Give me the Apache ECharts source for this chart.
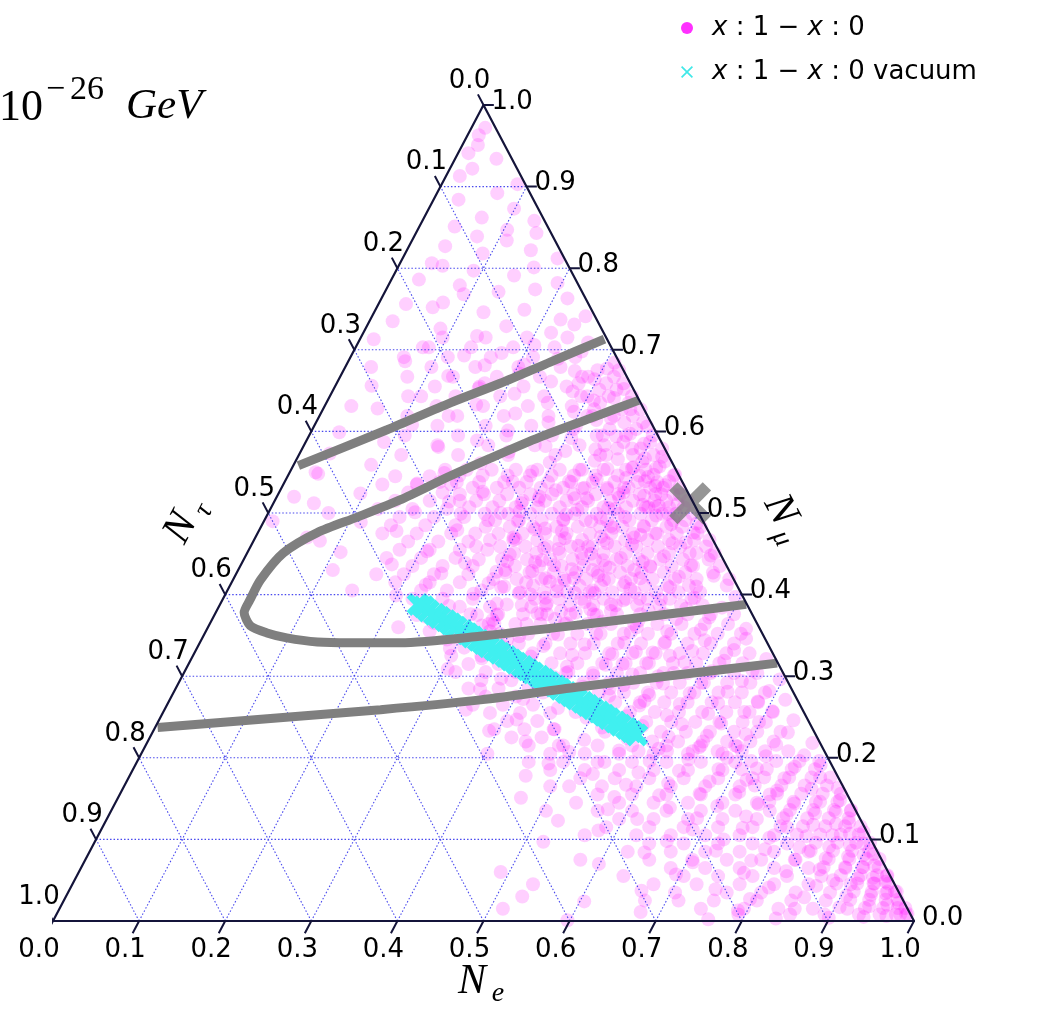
<!DOCTYPE html>
<html><head><meta charset="utf-8">
<script src="https://cdn.jsdelivr.net/npm/echarts/dist/echarts.min.js"></script>
<style>html,body{margin:0;padding:0;background:#fff}#c{width:1047px;height:1010px}</style>
</head><body><div id="c"></div><script>
// ---- data (ternary fractions) ----
const TICKS = [0, 0.1, 0.2, 0.3, 0.4, 0.5, 0.6, 0.7, 0.8, 0.9, 1.0];
const TICK_LABELS = ['0.0','0.1','0.2','0.3','0.4','0.5','0.6','0.7','0.8','0.9','1.0'];
const SERIES_NAMES = ['x : 1 − x : 0', 'x : 1 − x : 0 vacuum'];

// scatter cloud: [N_mu, N_tau]  (N_e = 1 - N_mu - N_tau)
const CLOUD_MU_TAU = [
[.972,.012],[.951,.031],[.934,.018],[.922,.052],[.903,.009],[.913,.071],[.892,.038],[.941,.047],[.884,.087],[.963,.024],
[.873,.028],[.862,.071],[.851,.108],[.843,.017],[.834,.056],[.827,.131],[.818,.092],[.812,.008],[.806,.157],[.801,.041],[.797,.113],[.791,.069],[.786,.182],[.782,.023],[.779,.138],[.858,.012],[.839,.088],[.822,.034],[.803,.146],[.847,.049],
[.774,.053],[.771,.097],[.763,.021],[.758,.168],[.756,.212],[.749,.078],[.746,.127],[.741,.011],[.737,.042],[.735,.238],[.729,.109],[.726,.187],[.721,.061],[.717,.149],[.713,.271],[.709,.024],[.706,.088],[.703,.219],[.698,.037],[.696,.131],[.693,.176],[.689,.069],[.686,.248],[.684,.006],[.682,.112],[.681,.158],[.679,.291],[.731,.029],[.752,.183],[.768,.139],
[.677,.018],[.674,.057],[.671,.123],[.668,.207],[.664,.039],[.661,.091],[.659,.169],[.656,.302],[.652,.011],[.649,.072],[.646,.141],[.643,.251],[.641,.028],[.638,.053],[.635,.108],[.633,.192],[.631,.338],[.627,.016],[.624,.083],[.622,.152],[.619,.231],[.616,.044],[.614,.062],[.611,.119],[.608,.279],[.606,.007],[.603,.094],[.601,.171],[.599,.368],[.597,.031],[.594,.049],[.592,.102],[.589,.213],[.587,.322],[.585,.021],[.583,.068],[.582,.137],[.581,.262],[.579,.038],[.578,.081],[.576,.117],[.575,.183],[.573,.392],[.628,.309],[.653,.179],
[.569,.008],[.567,.029],[.566,.061],[.564,.089],[.562,.142],[.561,.223],[.559,.351],
[.557,.017],[.556,.048],[.554,.079],[.553,.112],[.551,.168],[.549,.271],[.548,.418],
[.546,.006],[.544,.037],[.543,.063],[.541,.098],[.539,.131],[.538,.197],[.536,.309],
[.534,.022],[.533,.034],[.531,.071],[.529,.092],[.528,.152],[.526,.238],[.524,.381],
[.522,.011],[.521,.053],[.519,.083],[.518,.121],[.516,.178],[.514,.283],[.512,.441],
[.511,.019],[.509,.042],[.507,.058],[.506,.102],[.504,.139],[.502,.207],[.501,.329],
[.499,.027],[.497,.051],[.495,.088],[.494,.117],[.492,.161],[.491,.249],[.489,.398],
[.487,.009],[.486,.039],[.484,.072],[.482,.108],[.481,.188],[.479,.291],[.478,.362],
[.476,.018],[.475,.061],[.473,.081],[.471,.128],[.469,.171],[.468,.229],[.466,.457],
[.464,.033],[.463,.049],[.461,.097],[.459,.149],[.457,.201],[.455,.268],[.453,.339],
[.47,.47],[.452,.44],[.43,.46],[.405,.45],[.49,.50],[.52,.46],[.55,.42],[.5,.43],
[.448,.012],[.447,.067],[.445,.118],[.444,.163],[.442,.211],[.441,.252],[.439,.302],[.437,.388],
[.436,.041],[.434,.089],[.433,.137],[.431,.182],[.429,.229],[.428,.271],[.426,.336],[.425,.412],
[.423,.021],[.422,.062],[.42,.108],[.418,.151],[.417,.197],[.415,.243],[.414,.287],[.412,.361],
[.41,.048],[.409,.079],[.407,.126],[.405,.171],[.404,.213],[.402,.258],[.401,.311],[.399,.402],
[.397,.009],[.396,.057],[.394,.097],[.393,.141],[.391,.187],[.389,.232],[.388,.279],[.386,.347],
[.384,.031],[.383,.073],[.381,.118],[.38,.162],[.378,.204],[.377,.249],[.375,.297],[.373,.381],
[.372,.052],[.37,.091],[.368,.136],[.367,.178],[.365,.221],[.364,.268],[.362,.321],[.36,.419],
[.358,.016],[.357,.069],[.355,.109],[.354,.152],[.352,.193],[.351,.238],[.349,.284],[.347,.356],
[.43,.158],[.415,.128],[.402,.193],[.388,.158],[.375,.181],[.42,.218],[.395,.121],[.36,.142],[.44,.095],[.385,.252],[.41,.271],[.37,.232],
[.346,.022],[.344,.071],[.342,.118],[.341,.166],[.339,.213],[.337,.262],[.336,.309],[.334,.372],
[.332,.043],[.331,.092],[.329,.139],[.327,.187],[.326,.234],[.324,.283],[.322,.341],
[.321,.011],[.319,.061],[.317,.108],[.316,.153],[.314,.201],[.312,.247],[.311,.298],[.309,.387],
[.307,.034],[.306,.082],[.304,.127],[.302,.176],[.301,.222],[.299,.269],[.297,.331],
[.296,.008],[.294,.053],[.292,.101],[.291,.146],[.289,.193],[.287,.241],[.286,.292],[.284,.362],
[.282,.027],[.281,.076],[.279,.121],[.277,.169],[.276,.216],[.274,.262],[.272,.318],
[.271,.014],[.269,.047],[.267,.094],[.266,.139],[.264,.187],[.262,.234],[.261,.283],[.259,.391],
[.257,.036],[.256,.069],[.254,.112],[.252,.161],[.251,.208],[.249,.256],[.247,.338],
[.33,.158],[.315,.181],[.3,.147],[.285,.211],[.27,.178],[.325,.121],[.305,.249],
[.246,.017],[.244,.058],[.242,.103],[.241,.149],[.239,.196],[.237,.244],[.235,.301],[.233,.377],
[.231,.031],[.229,.081],[.227,.127],[.226,.172],[.224,.221],[.222,.272],[.22,.341],
[.218,.009],[.216,.052],[.214,.098],[.213,.143],[.211,.191],[.209,.238],[.207,.297],[.205,.393],
[.203,.026],[.202,.071],[.2,.117],[.198,.163],[.196,.209],[.195,.262],[.193,.328],
[.191,.013],[.189,.044],[.187,.089],[.186,.134],[.184,.181],[.182,.229],[.18,.283],[.178,.362],
[.176,.021],[.175,.063],[.173,.108],[.171,.152],[.169,.201],[.167,.251],[.165,.318],
[.163,.007],[.162,.038],[.16,.079],[.158,.124],[.156,.171],[.154,.219],[.152,.272],[.151,.381],
[.148,.012],[.146,.036],[.144,.067],[.143,.109],[.141,.158],[.139,.214],[.137,.287],
[.135,.006],[.134,.024],[.132,.049],[.13,.083],[.128,.131],[.126,.189],[.125,.259],[.123,.352],
[.121,.015],[.119,.031],[.118,.058],[.116,.097],[.114,.142],[.112,.201],[.111,.311],
[.109,.004],[.107,.021],[.105,.042],[.104,.073],[.102,.117],[.1,.171],[.098,.238],[.097,.382],
[.095,.011],[.093,.028],[.091,.053],[.09,.088],[.088,.129],[.086,.187],[.084,.271],
[.082,.006],[.081,.018],[.079,.037],[.077,.064],[.075,.101],[.074,.152],[.072,.221],[.07,.331],
[.068,.012],[.066,.027],[.065,.047],[.063,.078],[.061,.118],[.059,.168],[.057,.248],
[.055,.004],[.053,.021],[.052,.039],[.05,.069],
[.048,.009],[.046,.024],[.045,.051],[.043,.092],[.041,.148],[.039,.211],[.037,.298],
[.036,.004],[.034,.016],[.032,.034],[.031,.063],[.029,.113],[.027,.177],[.025,.261],[.024,.371],
[.022,.007],[.02,.021],[.018,.043],[.017,.078],[.015,.131],[.013,.198],[.011,.312],
[.009,.003],[.008,.012],[.006,.029],[.005,.056],[.004,.097],[.003,.159],[.002,.238],[.001,.402],
[.03,.44],[.015,.47],[.045,.42],[.06,.45],
// dense core
[.553,.035],[.553,.058],[.553,.084],[.553,.109],[.553,.135],[.553,.161],[.553,.186],[.553,.214],[.553,.243],[.553,.268],
[.546,.046],[.546,.071],[.546,.097],[.546,.122],[.546,.148],[.546,.173],[.546,.199],[.546,.228],[.546,.255],
[.538,.029],[.538,.052],[.538,.079],[.538,.104],[.538,.129],[.538,.156],[.538,.181],[.538,.207],[.538,.236],[.538,.262],[.538,.282],
[.531,.041],[.531,.066],[.531,.091],[.531,.117],[.531,.142],[.531,.168],[.531,.193],[.531,.219],[.531,.247],
[.523,.032],[.523,.057],[.523,.082],[.523,.108],[.523,.134],[.523,.159],[.523,.184],[.523,.211],[.523,.238],[.523,.266],
[.515,.044],[.515,.069],[.515,.095],[.515,.121],[.515,.146],[.515,.171],[.515,.197],[.515,.224],[.515,.251],
[.507,.031],[.507,.055],[.507,.081],[.507,.107],[.507,.132],[.507,.158],[.507,.183],[.507,.209],[.507,.236],[.507,.263],
[.499,.043],[.499,.068],[.499,.094],[.499,.119],[.499,.145],[.499,.171],[.499,.196],[.499,.222],[.499,.249],[.499,.277],
[.491,.034],[.491,.059],[.491,.085],[.491,.111],[.491,.136],[.491,.162],[.491,.187],[.491,.213],[.491,.241],
[.483,.046],[.483,.072],[.483,.097],[.483,.123],[.483,.149],[.483,.174],[.483,.201],[.483,.228],[.483,.256],
[.475,.038],[.475,.063],[.475,.089],[.475,.114],[.475,.139],[.475,.166],[.475,.191],[.475,.217],[.475,.245],[.475,.272],
[.467,.051],[.467,.076],[.467,.102],[.467,.127],[.467,.152],[.467,.178],[.467,.204],[.467,.232],[.467,.259],
[.459,.042],[.459,.068],[.459,.093],[.459,.118],[.459,.144],[.459,.169],[.459,.196],[.459,.222],[.459,.251],[.459,.279],
[.451,.035],[.451,.059],[.451,.084],[.451,.109],[.451,.135],[.451,.161],[.451,.186],[.451,.213],[.451,.239],
[.443,.047],[.443,.073],[.443,.098],[.443,.124],[.443,.149],[.443,.175],[.443,.201],[.443,.228],[.443,.257],[.443,.284],
[.435,.039],[.435,.064],[.435,.089],[.435,.115],[.435,.141],[.435,.166],[.435,.192],[.435,.218],[.435,.246],
[.427,.052],[.427,.077],[.427,.103],[.427,.128],[.427,.154],[.427,.179],[.427,.205],[.427,.233],[.427,.261],
[.419,.043],[.419,.068],[.419,.094],[.419,.119],[.419,.145],[.419,.171],[.419,.197],[.419,.223],[.419,.252],[.419,.279],
[.411,.056],[.411,.081],[.411,.107],[.411,.132],[.411,.158],[.411,.183],[.411,.209],[.411,.237],
[.403,.047],[.403,.072],[.403,.098],[.403,.123],[.403,.149],[.403,.175],[.403,.201],[.403,.228],[.403,.256],
[.395,.061],[.395,.086],[.395,.112],[.395,.137],[.395,.163],[.395,.189],[.395,.215],[.395,.243],
[.387,.052],[.387,.077],[.387,.102],[.387,.128],[.387,.153],[.387,.179],[.387,.206],[.387,.234],[.387,.262],
// left flank of the core
[.545,.29],[.545,.33],[.535,.27],[.535,.31],[.535,.35],[.525,.285],[.525,.325],[.515,.27],[.515,.305],[.515,.345],
[.505,.29],[.505,.33],[.505,.37],[.495,.275],[.495,.31],[.495,.35],[.485,.29],[.485,.325],[.485,.365],[.475,.3],[.475,.34],[.475,.38],
[.465,.285],[.465,.32],[.465,.355],[.455,.3],[.455,.335],[.455,.37],[.445,.31],[.445,.35],[.445,.39],[.435,.295],[.435,.33],[.435,.365],
[.425,.305],[.425,.345],[.425,.38],[.415,.32],[.415,.355],[.415,.395],[.405,.3],[.405,.34],[.405,.37],[.395,.315],[.395,.35],[.395,.385],
[.385,.3],[.385,.335],[.385,.37],[.375,.32],[.375,.355],[.375,.39],[.365,.305],[.365,.345],[.365,.375],[.355,.315],[.355,.35],[.355,.385],
[.345,.3],[.345,.335],[.345,.37],[.335,.32],[.335,.355],[.325,.305],[.325,.34],[.325,.375],[.315,.325],[.315,.36],[.305,.31],[.305,.345],[.305,.38],
[.295,.32],[.295,.355],[.285,.305],[.285,.34],[.285,.375],[.275,.325],[.275,.36],[.265,.31],[.265,.345],[.265,.38],[.255,.295],[.255,.33],[.255,.365],
[.245,.315],[.245,.35],[.235,.3],[.235,.335],[.235,.37],[.225,.32],[.225,.355],[.215,.305],[.215,.34],
// right-edge strip
[.675,.005],[.675,.03],[.667,.015],[.667,.045],[.659,.008],[.659,.028],[.659,.06],[.651,.02],[.651,.04],[.643,.006],[.643,.033],[.643,.065],
[.635,.014],[.635,.047],[.627,.004],[.627,.026],[.627,.058],[.619,.017],[.619,.039],[.619,.07],[.611,.009],[.611,.031],[.603,.021],[.603,.052],
[.595,.006],[.595,.037],[.595,.064],[.587,.013],[.587,.044],[.579,.003],[.579,.028],[.579,.055],[.571,.017],[.571,.041],[.571,.072],[.563,.008],[.563,.034],
[.555,.022],[.555,.05],[.547,.004],[.547,.029],[.539,.015],[.539,.043],[.531,.007],[.531,.026],[.523,.018],[.523,.039],[.515,.005],[.515,.03],
[.507,.014],[.507,.047],[.499,.008],[.499,.036],[.491,.02],[.483,.006],[.483,.028],[.475,.014],[.467,.004],[.467,.022],[.459,.012],[.451,.006],[.451,.027],
[.443,.017],[.435,.008],[.427,.02],[.419,.005],[.411,.012],
// extra core density
[.525,.075],[.518,.135],[.512,.2],[.505,.095],[.498,.155],[.49,.215],[.484,.11],[.478,.17],[.47,.23],[.463,.125],[.456,.185],[.449,.245],
[.442,.14],[.436,.2],[.43,.26],[.423,.155],[.416,.215],[.409,.275],[.402,.17],[.396,.23],[.389,.29],[.382,.185],[.376,.245],[.369,.305],
[.52,.175],[.5,.23],[.48,.2],[.46,.16],[.44,.22],[.42,.185],[.4,.245],[.38,.22],[.53,.12],[.51,.06],[.49,.13],[.47,.09],[.45,.15],[.43,.11],
// mid band
[.376,.021],[.376,.048],[.376,.075],[.376,.102],[.376,.13],[.376,.157],[.376,.184],[.376,.211],[.376,.238],[.376,.266],[.376,.295],[.376,.327],
[.364,.034],[.364,.061],[.364,.088],[.364,.116],[.364,.143],[.364,.17],[.364,.197],[.364,.224],[.364,.252],[.364,.281],[.364,.312],
[.352,.025],[.352,.052],[.352,.079],[.352,.106],[.352,.133],[.352,.161],[.352,.188],[.352,.215],[.352,.243],[.352,.272],[.352,.305],
[.34,.039],[.34,.066],[.34,.093],[.34,.12],[.34,.147],[.34,.174],[.34,.202],[.34,.229],[.34,.258],[.34,.289],
[.328,.027],[.328,.054],[.328,.081],[.328,.108],[.328,.136],[.328,.163],[.328,.19],[.328,.218],[.328,.247],[.328,.279],[.328,.318],
[.316,.041],[.316,.068],[.316,.095],[.316,.122],[.316,.15],[.316,.177],[.316,.204],[.316,.233],[.316,.263],[.316,.297],
[.304,.03],[.304,.057],[.304,.084],[.304,.111],[.304,.139],[.304,.166],[.304,.193],[.304,.221],[.304,.252],[.304,.284],
[.292,.044],[.292,.071],[.292,.098],[.292,.126],[.292,.153],[.292,.18],[.292,.208],[.292,.238],[.292,.27],
[.28,.033],[.28,.06],[.28,.087],[.28,.115],[.28,.142],[.28,.169],[.28,.197],[.28,.226],[.28,.258],[.28,.291],
[.268,.047],[.268,.074],[.268,.101],[.268,.129],[.268,.156],[.268,.184],[.268,.213],[.268,.244],
[.256,.036],[.256,.063],[.256,.09],[.256,.118],[.256,.145],[.256,.173],[.256,.202],[.256,.232],[.256,.265],
[.244,.05],[.244,.077],[.244,.104],[.244,.132],[.244,.16],[.244,.189],[.244,.219],
[.232,.039],[.232,.066],[.232,.093],[.232,.121],[.232,.149],[.232,.178],[.232,.209],[.232,.243],
[.22,.053],[.22,.08],[.22,.107],[.22,.135],[.22,.164],[.22,.194],
[.208,.042],[.208,.069],[.208,.096],[.208,.124],[.208,.153],[.208,.183],[.208,.216],
// lower middle
[.215,.1],[.215,.14],[.215,.18],[.215,.22],[.215,.26],[.215,.3],[.205,.12],[.205,.16],[.205,.2],[.205,.24],[.205,.28],[.205,.32],
[.195,.11],[.195,.15],[.195,.19],[.195,.23],[.195,.27],[.195,.31],[.195,.35],[.185,.13],[.185,.17],[.185,.21],[.185,.25],[.185,.29],[.185,.33],
[.175,.1],[.175,.14],[.175,.18],[.175,.22],[.175,.26],[.175,.3],[.165,.12],[.165,.16],[.165,.2],[.165,.24],[.165,.28],[.165,.34],
[.155,.09],[.155,.13],[.155,.17],[.155,.21],[.155,.25],[.155,.29],[.145,.11],[.145,.15],[.145,.19],[.145,.23],[.145,.27],[.145,.32],
[.135,.1],[.135,.14],[.135,.18],[.135,.22],[.135,.26],[.135,.3],[.135,.36],[.125,.12],[.125,.16],[.125,.2],[.125,.24],[.125,.28],
[.115,.09],[.115,.13],[.115,.17],[.115,.21],[.115,.25],[.115,.3],[.105,.11],[.105,.15],[.105,.19],[.105,.23],[.105,.27],[.105,.33],
[.095,.1],[.095,.14],[.095,.18],[.095,.22],[.095,.26],[.085,.08],[.085,.12],[.085,.16],[.085,.2],[.085,.24],[.085,.29],
[.075,.1],[.075,.14],[.075,.18],[.075,.22],[.075,.27],[.075,.35],[.065,.09],[.065,.13],[.065,.17],[.065,.21],[.065,.25],
[.055,.08],[.055,.12],[.055,.16],[.055,.2],[.055,.24],[.055,.31],[.045,.1],[.045,.14],[.045,.18],[.045,.23],[.045,.28],
[.035,.08],[.035,.12],[.035,.16],[.035,.2],[.035,.26],[.025,.09],[.025,.13],[.025,.17],[.025,.22],[.025,.3],
[.015,.07],[.015,.11],[.015,.15],[.015,.19],[.015,.24],[.008,.06],[.008,.1],[.008,.14],[.008,.2],
// lower right edge
[.196,.012],[.196,.035],[.196,.062],[.196,.091],[.186,.022],[.186,.049],[.186,.078],[.186,.107],[.176,.009],[.176,.031],[.176,.057],[.176,.086],
[.166,.018],[.166,.044],[.166,.071],[.166,.102],[.156,.007],[.156,.028],[.156,.053],[.156,.081],[.146,.016],[.146,.041],[.146,.067],[.146,.095],
[.136,.005],[.136,.025],[.136,.049],[.136,.076],[.126,.013],[.126,.036],[.126,.061],[.126,.089],[.116,.004],[.116,.022],[.116,.045],[.116,.071],
[.106,.011],[.106,.032],[.106,.056],[.106,.083],[.096,.003],[.096,.019],[.096,.041],[.096,.066],[.086,.009],[.086,.029],[.086,.051],[.086,.077],
[.076,.002],[.076,.017],[.076,.037],[.076,.061],[.066,.008],[.066,.026],[.066,.047],[.066,.072],[.056,.003],[.056,.015],[.056,.034],[.056,.057],
[.046,.007],[.046,.023],[.046,.043],[.046,.067],[.036,.002],[.036,.013],[.036,.031],[.036,.052],[.026,.006],[.026,.02],[.026,.039],[.026,.061],
[.016,.002],[.016,.011],[.016,.028],[.016,.049],[.008,.005],[.008,.017],[.008,.036],
// upper middle
[.715,.045],[.715,.092],[.715,.14],[.715,.19],[.703,.066],[.703,.114],[.703,.163],[.703,.212],[.691,.048],[.691,.097],[.691,.146],[.691,.196],[.691,.247],
[.679,.071],[.679,.12],[.679,.17],[.679,.221],[.667,.052],[.667,.101],[.667,.151],[.667,.202],[.667,.255],[.655,.076],[.655,.126],[.655,.177],[.655,.229],
[.643,.058],[.643,.108],[.643,.159],[.643,.211],[.643,.266],[.631,.082],[.631,.133],[.631,.185],[.631,.239],[.619,.064],[.619,.115],[.619,.167],[.619,.221],[.619,.279],
[.607,.089],[.607,.141],[.607,.194],[.607,.25],[.595,.071],[.595,.123],[.595,.176],[.595,.232],[.595,.294],[.583,.097],[.583,.149],[.583,.203],[.583,.262],
[.571,.079],[.571,.131],[.571,.186],[.571,.244],[.571,.31]
];

// vacuum points: [N_e, N_mu]
const VACUUM_NE_MU = [
[.230,.388],[.238,.385],[.246,.380],[.255,.376],[.263,.372],[.272,.368],[.280,.364],[.288,.360],[.297,.356],[.305,.352],
[.313,.348],[.322,.344],[.330,.340],[.338,.336],[.347,.332],[.355,.328],[.364,.324],[.372,.320],[.380,.316],[.389,.312],
[.397,.308],[.405,.304],[.414,.300],[.422,.296],[.430,.292],[.439,.288],[.447,.284],[.456,.280],[.464,.276],[.472,.272],
[.481,.268],[.489,.264],[.497,.260],[.506,.256],[.514,.252],[.522,.248],[.531,.244],[.539,.240],[.548,.236],[.556,.232],[.564,.228]
];

// grey contours: [N_e, N_mu]
const CONTOUR_1 = [[.006,.558],[.087,.602],[.144,.635],[.190,.659],[.235,.685],[.284,.713]];
const CONTOUR_2 = [[.361,.638],[.316,.616],[.269,.593],[.224,.567],[.188,.545],[.145,.516],[.106,.495],[.069,.476],[.042,.451],[.032,.418],[.032,.393],[.033,.378],[.048,.362],[.072,.353],[.098,.347],[.136,.342],[.175,.341],[.233,.341],[.321,.349],[.431,.363],[.540,.378],[.611,.388]];
const CONTOUR_3 = [[.003,.237],[.139,.249],[.251,.259],[.361,.271],[.469,.287],[.578,.302],[.683,.316]];

// grey marker: [N_e, N_mu]
const MARKER_NE_MU = [.484, .512];

// ---- helpers ----
function tern(ne, mu) { return [ne + mu / 2, mu]; }
const GAP = [null, null];

const gridData = [];
TICKS.slice(1, -1).forEach(k => {
  gridData.push(tern(0, k), tern(1 - k, k), GAP);
  gridData.push(tern(k, 0), tern(k, 1 - k), GAP);
  gridData.push(tern(1 - k, 0), tern(0, 1 - k), GAP);
});
const tickData = [];
TICKS.forEach(k => {
  tickData.push(tern(k, 0), tern(k, -0.015), GAP);
  tickData.push(tern(1 - k, k), tern(1 - k + 0.012, k), GAP);
  tickData.push(tern(0, 1 - k), tern(-0.013, 1 - k + 0.013), GAP);
});
const edgeData = [tern(0, 0), tern(1, 0), tern(0, 1), tern(0, 0)];

const labelStyle = { show: true, position: 'inside', fontFamily: 'DejaVu Sans', fontSize: 26, color: '#000', textBorderWidth: 0, opacity: 1, align: 'center', verticalAlign: 'middle' };
const bottomLabels = TICKS.map((k, i) => ({ value: tern(k, 0), name: TICK_LABELS[i] }));
const leftLabels = TICKS.map((k, i) => ({ value: tern(0, 1 - k), name: TICK_LABELS[i] }));
const rightLabels = TICKS.map((k, i) => ({ value: tern(1 - k, k), name: TICK_LABELS[i] }));

const XTHICK = 'path://M0,2L2,0L5,3L8,0L10,2L7,5L10,8L8,10L5,7L2,10L0,8L3,5Z';
const XTHIN = 'path://M1,0L5,4L9,0L10,1L6,5L10,9L9,10L5,6L1,10L0,9L4,5L0,1Z';

function labelSeries(data, extra) {
  return Object.assign({
    type: 'scatter', data, symbolSize: 1, silent: true, z: 10,
    itemStyle: { color: 'rgba(255,255,255,0)' },
    label: Object.assign({}, labelStyle, { formatter: '{b}' })
  }, extra);
}
function contourSeries(data) {
  return { type: 'line', data: data.map(p => tern(p[0], p[1])), showSymbol: false, symbol: 'none', smooth: 0.25, z: 6, silent: true, clip: false,
    lineStyle: { color: '#7f7f7f', width: 9 } };
}

const chart = echarts.init(document.getElementById('c'), null, { renderer: 'canvas' });
const txt = (x, y, text, font) => ({ type: 'text', x, y, style: { text, font, fill: '#000', textAlign: 'left', textVerticalAlign: 'middle', align: 'left', verticalAlign: 'middle' } });
const deg = Math.PI / 180;
const titleGroup = (x, y, rot, main, sub) => ({
  type: 'group', x, y, rotation: rot,
  children: [
    { type: 'text', x: 0, y: 0, style: { text: main, font: 'italic 42px "Liberation Serif"', fill: '#000', textAlign: 'center', textVerticalAlign: 'middle', align: 'center', verticalAlign: 'middle' } },
    { type: 'text', x: 26, y: 12, style: { text: sub, font: 'italic 28px "Liberation Serif"', fill: '#000', textAlign: 'center', textVerticalAlign: 'middle', align: 'center', verticalAlign: 'middle' } }
  ]
});

chart.setOption({
  animation: false,
  backgroundColor: '#fff',
  grid: { left: 53, right: 133, top: 105, bottom: 89 },
  xAxis: { type: 'value', min: 0, max: 1, show: false },
  yAxis: { type: 'value', min: 0, max: 1, show: false },
  legend: {
    left: 676, top: 10, orient: 'vertical', itemWidth: 12, itemHeight: 12, itemGap: 18, selectedMode: false,
    data: [
      { name: SERIES_NAMES[0], icon: 'circle', itemStyle: { color: '#ff30ff', opacity: 1 } },
      { name: SERIES_NAMES[1], icon: XTHIN, itemStyle: { color: '#40e8e8', opacity: 1 } }
    ],
    formatter: n => n.replace(/x/g, '{i|x}'),
    textStyle: { fontFamily: 'DejaVu Sans', fontSize: 26, color: '#000', padding: [0, 0, 0, 14],
      rich: { i: { fontFamily: 'DejaVu Sans', fontSize: 26, fontStyle: 'italic', color: '#000' } } }
  },
  graphic: [
    txt(-1, 108, '10', '44px "Liberation Serif"'),
    txt(46, 90, '−', '34px "Liberation Serif"'),
    txt(70, 90, '26', '34px "Liberation Serif"'),
    txt(126, 107, 'GeV', 'italic 43px "Liberation Serif"'),
    titleGroup(472, 982, 0, 'N', 'e'),
    titleGroup(181, 528, 62 * deg, 'N', 'τ'),
    titleGroup(780, 510, -62 * deg, 'N', 'μ')
  ],
  series: [
    { name: SERIES_NAMES[0], type: 'scatter', z: 1, silent: true, large: false,
      data: CLOUD_MU_TAU.map(p => tern(1 - p[0] - p[1], p[0])),
      symbol: 'circle', symbolSize: 14, itemStyle: { color: '#ff00ff', opacity: 0.19 } },
    { name: SERIES_NAMES[1], type: 'scatter', z: 2, silent: true,
      data: VACUUM_NE_MU.map(p => tern(p[0], p[1])),
      symbol: XTHICK, symbolSize: 23, itemStyle: { color: '#40f0f0', opacity: 1 } },
    { type: 'line', data: gridData, showSymbol: false, symbol: 'none', connectNulls: false, z: 3, silent: true, clip: false,
      lineStyle: { color: 'rgba(40,40,235,0.85)', width: 1.1, type: [1.5, 2] } },
    contourSeries(CONTOUR_1),
    contourSeries(CONTOUR_2),
    contourSeries(CONTOUR_3),
    { type: 'scatter', z: 7, silent: true, data: [tern(MARKER_NE_MU[0], MARKER_NE_MU[1])],
      symbol: XTHICK, symbolSize: 42, itemStyle: { color: '#7a7a7a' } },
    { type: 'line', data: edgeData, showSymbol: false, symbol: 'none', z: 8, silent: true, clip: false,
      lineStyle: { color: '#14143a', width: 2.2 } },
    { type: 'line', data: tickData, showSymbol: false, symbol: 'none', connectNulls: false, z: 8, silent: true, clip: false,
      lineStyle: { color: '#14143a', width: 2 } },
    labelSeries(bottomLabels, { label: Object.assign({}, labelStyle, { formatter: '{b}', offset: [-14, 29] }) }),
    labelSeries(leftLabels, { label: Object.assign({}, labelStyle, { formatter: '{b}', offset: [-14, -24] }) }),
    labelSeries(rightLabels, { label: Object.assign({}, labelStyle, { formatter: '{b}', align: 'left', offset: [8, -3] }) })
  ]
});
</script></body></html>
